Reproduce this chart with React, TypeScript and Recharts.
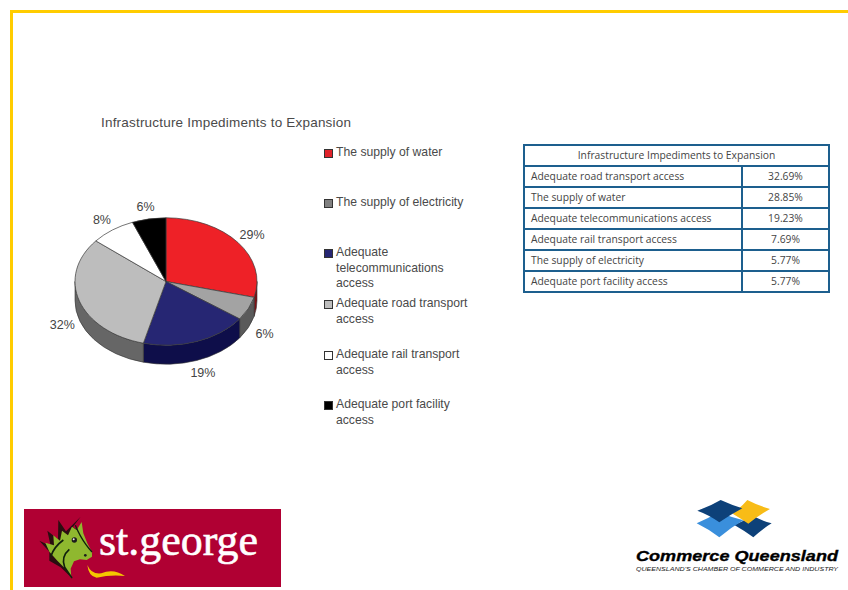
import React from 'react';
import { PieChart, Pie, Cell, Legend } from 'recharts';

const categories = [
  'The supply of water',
  'The supply of electricity',
  'Adequate telecommunications access',
  'Adequate road transport access',
  'Adequate rail transport access',
  'Adequate port facility access',
];
const shares = [29, 6, 19, 32, 8, 6];
const topColors = ['#ee2127', '#a3a3a3', '#262673', '#bdbdbd', '#ffffff', '#000000'];
const wallColors = ['#7d1014', '#5a5a5a', '#0e0e4a', '#666666', '#888888', '#000000'];

const legendLines = [
  ['The supply of water'],
  ['The supply of electricity'],
  ['Adequate', 'telecommunications', 'access'],
  ['Adequate road transport', 'access'],
  ['Adequate rail transport', 'access'],
  ['Adequate port facility', 'access'],
];
const legendTops = [145, 195, 245, 296, 347, 397];
const legendSwatches = ['#e0222a', '#808080', '#262673', '#bdbdbd', '#ffffff', '#000000'];

const tableTitle = 'Infrastructure Impediments to Expansion';
const tableRows = [
  'Adequate road transport access',
  'The supply of water',
  'Adequate telecommunications access',
  'Adequate rail transport access',
  'The supply of electricity',
  'Adequate port facility access',
];
const tableValues = ['32.69%', '28.85%', '19.23%', '7.69%', '5.77%', '5.77%'];

const pieData = categories.map((name, i) => ({ name, share: shares[i] }));

const CX = 166;
const CY = 281.5;
const RX = 91;
const SQUASH = 0.7;
const DEPTH = 19;
const RAD = Math.PI / 180;

const onEllipse = (cx: number, cy: number, r: number, deg: number) => ({
  x: cx + r * Math.cos(deg * RAD),
  y: cy - r * SQUASH * Math.sin(deg * RAD),
});

// top face of one slice, flattened into an ellipse
const TopSlice = (props: any) => {
  const { cx, cy, outerRadius: r, startAngle, endAngle, fill } = props;
  const a = onEllipse(cx, cy, r, startAngle);
  const b = onEllipse(cx, cy, r, endAngle);
  const large = Math.abs(endAngle - startAngle) > 180 ? 1 : 0;
  const d = `M${cx},${cy} L${a.x},${a.y} A${r},${r * SQUASH} 0 ${large} 1 ${b.x},${b.y} Z`;
  return <path d={d} fill={fill} stroke="#3a3a3a" strokeWidth={0.7} strokeLinejoin="round" />;
};

// side wall of one slice: only the part facing the viewer (angles -180..0) shows
const WallSlice = (props: any) => {
  const { cx, cy, outerRadius: r, startAngle, endAngle, fill } = props;
  const from = Math.min(startAngle, 0);
  const to = Math.max(endAngle, -180);
  if (from <= to) return <g />;
  const a = onEllipse(cx, cy, r, from);
  const b = onEllipse(cx, cy, r, to);
  const ry = r * SQUASH;
  const d =
    `M${a.x},${a.y} A${r},${ry} 0 0 1 ${b.x},${b.y} ` +
    `L${b.x},${b.y + DEPTH} A${r},${ry} 0 0 0 ${a.x},${a.y + DEPTH} Z`;
  return <path d={d} fill={fill} stroke="#333333" strokeWidth={0.6} strokeLinejoin="round" />;
};

const renderShareLabel = (props: any) => {
  const { cx, cy, outerRadius: r, midAngle, value } = props;
  const p = onEllipse(cx, cy, r + 18, midAngle);
  const y = Math.sin(midAngle * RAD) < 0 ? p.y + DEPTH + 1 : p.y;
  return (
    <text
      x={p.x}
      y={y}
      textAnchor="middle"
      dominantBaseline="central"
      fontFamily="'Liberation Sans', Arial, sans-serif"
      fontSize={12.5}
      fill="#444444"
    >
      {`${value}%`}
    </text>
  );
};

const renderLegend = () => (
  <div style={{ position: 'relative', width: 848, height: 590 }}>
    {legendLines.map((lines, i) => (
      <div
        key={categories[i]}
        style={{
          position: 'absolute',
          left: 336,
          top: legendTops[i],
          fontFamily: "'Liberation Sans', Arial, sans-serif",
          fontSize: 12.2,
          lineHeight: '15.5px',
          color: '#4a4a4a',
          whiteSpace: 'nowrap',
        }}
      >
        <span
          style={{
            position: 'absolute',
            left: -12,
            top: 4,
            width: 7,
            height: 7,
            background: legendSwatches[i],
            border: '1px solid #333',
          }}
        />
        {lines.map((line) => (
          <div key={line}>{line}</div>
        ))}
      </div>
    ))}
  </div>
);

const StGeorgeLogo = () => (
  <svg width={848} height={590} style={{ position: 'absolute', left: 0, top: 0 }}>
    <rect x={24} y={509} width={257} height={78} fill="#b00033" />
    <g transform="translate(30,510) scale(0.3333)">
      {/* dark spines behind the head */}
      <path
        d="M28,92 L62,108 L52,62 L84,88 L85,30 L108,64 L152,20 L128,52 L145,60 L120,120 L105,175 L128,206 L92,172 L58,152 L58,125 Z"
        fill="#2a0d10"
      />
      <path
        d="M58,125 L46,98 L72,106 L70,76 L90,92 L96,62 L114,76 L126,50 L140,60 L155,36 L160,70 L172,100 L186,126 L186,140 L170,150 L150,148 L132,154 L122,176 L124,204 L106,176 L82,152 Z"
        fill="#8fb82f"
      />
      <path d="M136,46 Q150,80 168,104 Q178,118 186,126" fill="none" stroke="#10200c" strokeWidth={4} />
      <path d="M100,90 Q72,110 62,140 M118,118 Q92,140 104,172 Q116,190 126,204" fill="none" stroke="#10200c" strokeWidth={5} />
      <circle cx={133} cy={90} r={8} fill="#1c1c1c" />
      <circle cx={131} cy={88} r={3} fill="#e8e8e8" />
      <circle cx={166} cy={136} r={4} fill="#1c1c1c" />
      <path d="M172,165 Q184,194 214,190 Q250,174 285,198 Q240,194 200,203 Q176,200 172,165 Z" fill="#f4c800" />
    </g>
    <text
      x={99}
      y={555}
      textLength={159}
      lengthAdjust="spacingAndGlyphs"
      fontFamily="'Liberation Serif', serif"
      fontWeight={400}
      fontSize={44}
      fill="#ffffff"
      stroke="#ffffff"
      strokeWidth={0.6}
    >
      st.george
    </text>
  </svg>
);

const CommerceLogo = () => (
  <svg width={848} height={590} style={{ position: 'absolute', left: 0, top: 0 }}>
    <g transform="translate(690,495) scale(0.3333)">
      <path d="M133,90 Q160,80 185,60 Q215,78 245,85 Q215,103 190,127 Q160,105 133,90 Z" fill="#0d4179" />
      <path d="M128,56 Q152,38 172,15 Q205,32 240,42 Q205,62 175,86 Q152,70 128,56 Z" fill="#f8bc17" />
      <path d="M20,85 Q52,72 85,52 Q122,66 160,76 Q122,98 88,127 Q55,102 20,85 Z" fill="#3a8fdc" />
      <path d="M22,47 Q60,34 92,15 Q125,30 157,40 Q120,60 88,82 Q58,60 22,47 Z" fill="#0d4179" />
    </g>
    <text
      x={636}
      y={561}
      textLength={202}
      lengthAdjust="spacingAndGlyphs"
      fontFamily="'Liberation Sans', Arial, sans-serif"
      fontWeight={700}
      fontStyle="italic"
      fontSize={15.5}
      fill="#000000"
      stroke="#000000"
      strokeWidth={0.35}
    >
      Commerce Queensland
    </text>
    <text
      x={636}
      y={571}
      textLength={202}
      lengthAdjust="spacingAndGlyphs"
      fontFamily="'Liberation Sans', Arial, sans-serif"
      fontStyle="italic"
      fontSize={6}
      fill="#222222"
    >
      QUEENSLAND'S CHAMBER OF COMMERCE AND INDUSTRY
    </text>
  </svg>
);

const cellBase: React.CSSProperties = {
  border: '2px solid #1d5f8e',
  padding: '0 6px',
  height: 19,
  boxSizing: 'content-box',
  fontFamily: "'Open Sans', sans-serif",
  fontSize: 10.3,
  lineHeight: '19px',
  color: '#444444',
  whiteSpace: 'nowrap',
};

export default function App() {
  return (
    <div style={{ position: 'absolute', left: 0, top: 0, width: 848, height: 590, background: '#ffffff', overflow: 'hidden' }}>
      <div style={{ position: 'absolute', left: 10, top: 10, width: 838, height: 3, background: '#ffcc00' }} />
      <div style={{ position: 'absolute', left: 10, top: 10, width: 3, height: 580, background: '#ffcc00' }} />

      <div
        style={{
          position: 'absolute',
          left: 101,
          top: 115,
          fontFamily: "'Liberation Sans', Arial, sans-serif",
          fontSize: 13.5,
          letterSpacing: 0.2,
          color: '#4a4a4a',
          whiteSpace: 'nowrap',
        }}
      >
        {tableTitle}
      </div>

      <div style={{ position: 'absolute', left: 0, top: 0 }}>
        <PieChart width={848} height={590} margin={{ top: 0, right: 0, bottom: 0, left: 0 }}>
          <Pie
            data={pieData}
            dataKey="share"
            nameKey="name"
            cx={CX}
            cy={CY}
            outerRadius={RX}
            startAngle={90}
            endAngle={-270}
            stroke="none"
            legendType="none"
            shape={WallSlice}
            isAnimationActive={false}
          >
            {wallColors.map((c, i) => (
              <Cell key={i} fill={c} />
            ))}
          </Pie>
          <Pie
            data={pieData}
            dataKey="share"
            nameKey="name"
            cx={CX}
            cy={CY}
            outerRadius={RX}
            startAngle={90}
            endAngle={-270}
            shape={TopSlice}
            label={renderShareLabel}
            labelLine={false}
            isAnimationActive={false}
          >
            {topColors.map((c, i) => (
              <Cell key={i} fill={c} />
            ))}
          </Pie>
          <Legend
            content={renderLegend}
            wrapperStyle={{ position: 'absolute', left: 0, top: 0, width: 848, height: 590, pointerEvents: 'none' }}
          />
        </PieChart>
      </div>

      <table
        style={{
          position: 'absolute',
          left: 523,
          top: 144,
          width: 305,
          tableLayout: 'fixed',
          borderCollapse: 'collapse',
        }}
      >
        <colgroup>
          <col style={{ width: 218 }} />
          <col style={{ width: 87 }} />
        </colgroup>
        <tbody>
          <tr>
            <td colSpan={2} style={{ ...cellBase, textAlign: 'center' }}>
              {tableTitle}
            </td>
          </tr>
          {tableRows.map((row, i) => (
            <tr key={row}>
              <td style={cellBase}>{row}</td>
              <td style={{ ...cellBase, textAlign: 'center' }}>{tableValues[i]}</td>
            </tr>
          ))}
        </tbody>
      </table>

      <StGeorgeLogo />
      <CommerceLogo />
    </div>
  );
}
